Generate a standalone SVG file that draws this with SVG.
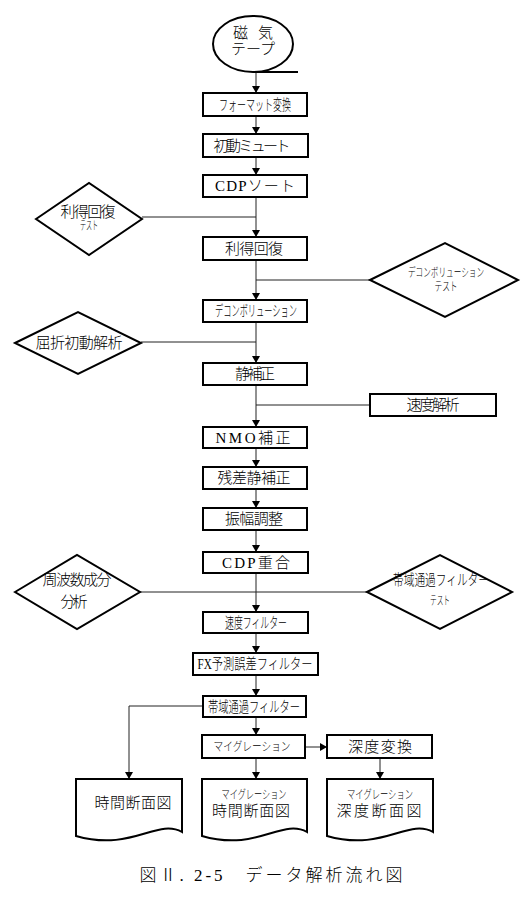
<svg xmlns="http://www.w3.org/2000/svg" width="527" height="899" viewBox="0 0 527 899">
<style>
.bx{fill:#fff;stroke:#000;stroke-width:2}
.dm{fill:#fff;stroke:#000;stroke-width:2}
.ln{fill:none;stroke:#222;stroke-width:1}
.ar{fill:none;stroke:#222;stroke-width:1;marker-end:url(#ah)}
text{font-family:"Liberation Serif","Noto Sans CJK JP",serif;font-weight:300;fill:#000;text-anchor:middle;dominant-baseline:central}
.t{font-size:15px}
.s{font-size:12px}
</style>
<defs>
<marker id="ah" markerWidth="7" markerHeight="8" refX="7" refY="4" orient="auto" markerUnits="userSpaceOnUse">
<path d="M0,0 L7,4 L0,8 Z" fill="#000"/>
</marker>
</defs>
<g id="connectors">
<line class="ar" x1="256" y1="72" x2="256" y2="93"/>
<line class="ar" x1="256" y1="116" x2="256" y2="134"/>
<line class="ar" x1="256" y1="157" x2="256" y2="175"/>
<line class="ar" x1="256" y1="197" x2="256" y2="237"/>
<line class="ln" x1="142" y1="217" x2="256" y2="217"/>
<line class="ar" x1="256" y1="260" x2="256" y2="300"/>
<line class="ln" x1="256" y1="280" x2="370" y2="280"/>
<line class="ar" x1="256" y1="322" x2="256" y2="363"/>
<line class="ln" x1="141" y1="342" x2="256" y2="342"/>
<line class="ar" x1="256" y1="385" x2="256" y2="427"/>
<line class="ln" x1="256" y1="405" x2="370" y2="405"/>
<line class="ar" x1="256" y1="448" x2="256" y2="467"/>
<line class="ar" x1="256" y1="489" x2="256" y2="508"/>
<line class="ar" x1="256" y1="530" x2="256" y2="552"/>
<line class="ar" x1="256" y1="573" x2="256" y2="612"/>
<line class="ln" x1="140" y1="592" x2="367" y2="592"/>
<line class="ar" x1="256" y1="633" x2="256" y2="653"/>
<line class="ar" x1="256" y1="675" x2="256" y2="696"/>
<line class="ar" x1="256" y1="717" x2="256" y2="735"/>
<polyline class="ar" points="203,706 129,706 129,779"/>
<line class="ar" x1="305" y1="747" x2="327" y2="747"/>
<line class="ar" x1="256" y1="758" x2="256" y2="779"/>
<line class="ar" x1="380" y1="758" x2="380" y2="779"/>
</g>
<g id="tape">
<ellipse cx="253" cy="44" rx="40" ry="28" fill="#fff" stroke="#000" stroke-width="2"/>
<line x1="253" y1="72" x2="298" y2="72" stroke="#000" stroke-width="2"/>
<text class="t" x="253" y="33" textLength="40" lengthAdjust="spacing">磁 気</text>
<text class="t" x="253" y="49">テープ</text>
</g>
<g id="n1"><rect class="bx" x="203" y="93" width="104" height="23"/><text class="t" x="255" y="105" textLength="72" lengthAdjust="spacingAndGlyphs">フォーマット変換</text></g>
<g id="n2"><rect class="bx" x="203" y="134" width="105" height="23"/><text class="t" x="252" y="146" textLength="77" lengthAdjust="spacing">初動ミュート</text></g>
<g id="n3"><rect class="bx" x="203" y="175" width="104" height="22"/><text class="t" x="255" y="186" textLength="80" lengthAdjust="spacing">CDPソート</text></g>
<g id="n4"><rect class="bx" x="203" y="237" width="104" height="23"/><text class="t" x="254" y="249" textLength="58" lengthAdjust="spacing">利得回復</text></g>
<g id="n5"><rect class="bx" x="203" y="300" width="104" height="22"/><text class="t" x="256" y="311" textLength="82" lengthAdjust="spacingAndGlyphs">デコンボリューション</text></g>
<g id="n6"><rect class="bx" x="203" y="363" width="104" height="22"/><text class="t" x="255" y="374" textLength="40" lengthAdjust="spacing">静補正</text></g>
<g id="n7"><rect class="bx" x="203" y="427" width="104" height="21"/><text class="t" x="253" y="438" textLength="75" lengthAdjust="spacing">NMO補正</text></g>
<g id="n8"><rect class="bx" x="203" y="467" width="104" height="22"/><text class="t" x="254" y="478" textLength="73" lengthAdjust="spacing">残差静補正</text></g>
<g id="n9"><rect class="bx" x="203" y="508" width="104" height="22"/><text class="t" x="254" y="519" textLength="58" lengthAdjust="spacing">振幅調整</text></g>
<g id="n10"><rect class="bx" x="203" y="552" width="105" height="21"/><text class="t" x="256" y="563" textLength="68" lengthAdjust="spacing">CDP重合</text></g>
<g id="n11"><rect class="bx" x="203" y="612" width="105" height="21"/><text class="t" x="256" y="623" textLength="62" lengthAdjust="spacingAndGlyphs">速度フィルター</text></g>
<g id="n12"><rect class="bx" x="193" y="653" width="125" height="22"/><text class="t" x="255" y="664" textLength="115" lengthAdjust="spacingAndGlyphs">FX予測誤差フィルター</text></g>
<g id="n13"><rect class="bx" x="203" y="696" width="103" height="21"/><text class="t" x="254" y="707" textLength="92" lengthAdjust="spacingAndGlyphs">帯域通過フィルター</text></g>
<g id="n14"><rect class="bx" x="202" y="735" width="103" height="23"/><text class="s" x="252" y="747" textLength="77" lengthAdjust="spacingAndGlyphs">マイグレーション</text></g>
<g id="n15"><rect class="bx" x="327" y="735" width="105" height="23"/><text class="t" x="380" y="747" textLength="64" lengthAdjust="spacing">深度変換</text></g>
<g id="d1"><polygon class="dm" points="36,219 89,183 142,219 89,255"/><text class="t" x="88" y="212" textLength="55" lengthAdjust="spacing">利得回復</text><text class="s" x="89" y="226" textLength="18" lengthAdjust="spacingAndGlyphs">テスト</text></g>
<g id="d2"><polygon class="dm" points="370,280 445,243 518,280 445,317"/><text class="s" x="446" y="273" textLength="76" lengthAdjust="spacingAndGlyphs">デコンボリューション</text><text class="s" x="446" y="287" textLength="23" lengthAdjust="spacingAndGlyphs">テスト</text></g>
<g id="d3"><polygon class="dm" points="15,343 78,312 141,343 78,374"/><text class="t" x="79" y="343" textLength="87" lengthAdjust="spacing">屈折初動解析</text></g>
<g id="n16"><rect class="bx" x="370" y="394" width="126" height="22"/><text class="t" x="433" y="405" textLength="53" lengthAdjust="spacing">速度解析</text></g>
<g id="d4"><polygon class="dm" points="15,592 77,555 140,592 77,629"/><text class="t" x="77" y="580" textLength="69" lengthAdjust="spacing">周波数成分</text><text class="t" x="74" y="602" textLength="27" lengthAdjust="spacing">分析</text></g>
<g id="d5"><polygon class="dm" points="367,592 440,555 512,592 440,629"/><text class="t" x="441" y="580" textLength="96" lengthAdjust="spacingAndGlyphs">帯域通過フィルター</text><text class="s" x="440" y="601" textLength="20" lengthAdjust="spacingAndGlyphs">テスト</text></g>
<g id="doc1"><path class="bx" d="M76,779 H182 V832 C157,818 132,852 76,836 Z"/><text class="t" x="133" y="803" textLength="77" lengthAdjust="spacing">時間断面図</text></g>
<g id="doc2"><path class="bx" d="M202,779 H307 V832 C282,818 257,852 202,836 Z"/><text class="s" x="254" y="795" textLength="65" lengthAdjust="spacingAndGlyphs">マイグレーション</text><text class="t" x="251" y="811" textLength="78" lengthAdjust="spacing">時間断面図</text></g>
<g id="doc3"><path class="bx" d="M327,779 H433 V832 C408,818 383,852 327,836 Z"/><text class="s" x="380" y="795" textLength="66" lengthAdjust="spacingAndGlyphs">マイグレーション</text><text class="t" x="379" y="811" textLength="85" lengthAdjust="spacing">深度断面図</text></g>
<text x="271" y="875" style="font-size:17px" textLength="263" lengthAdjust="spacing">図Ⅱ. 2-5　データ解析流れ図</text>
</svg>
